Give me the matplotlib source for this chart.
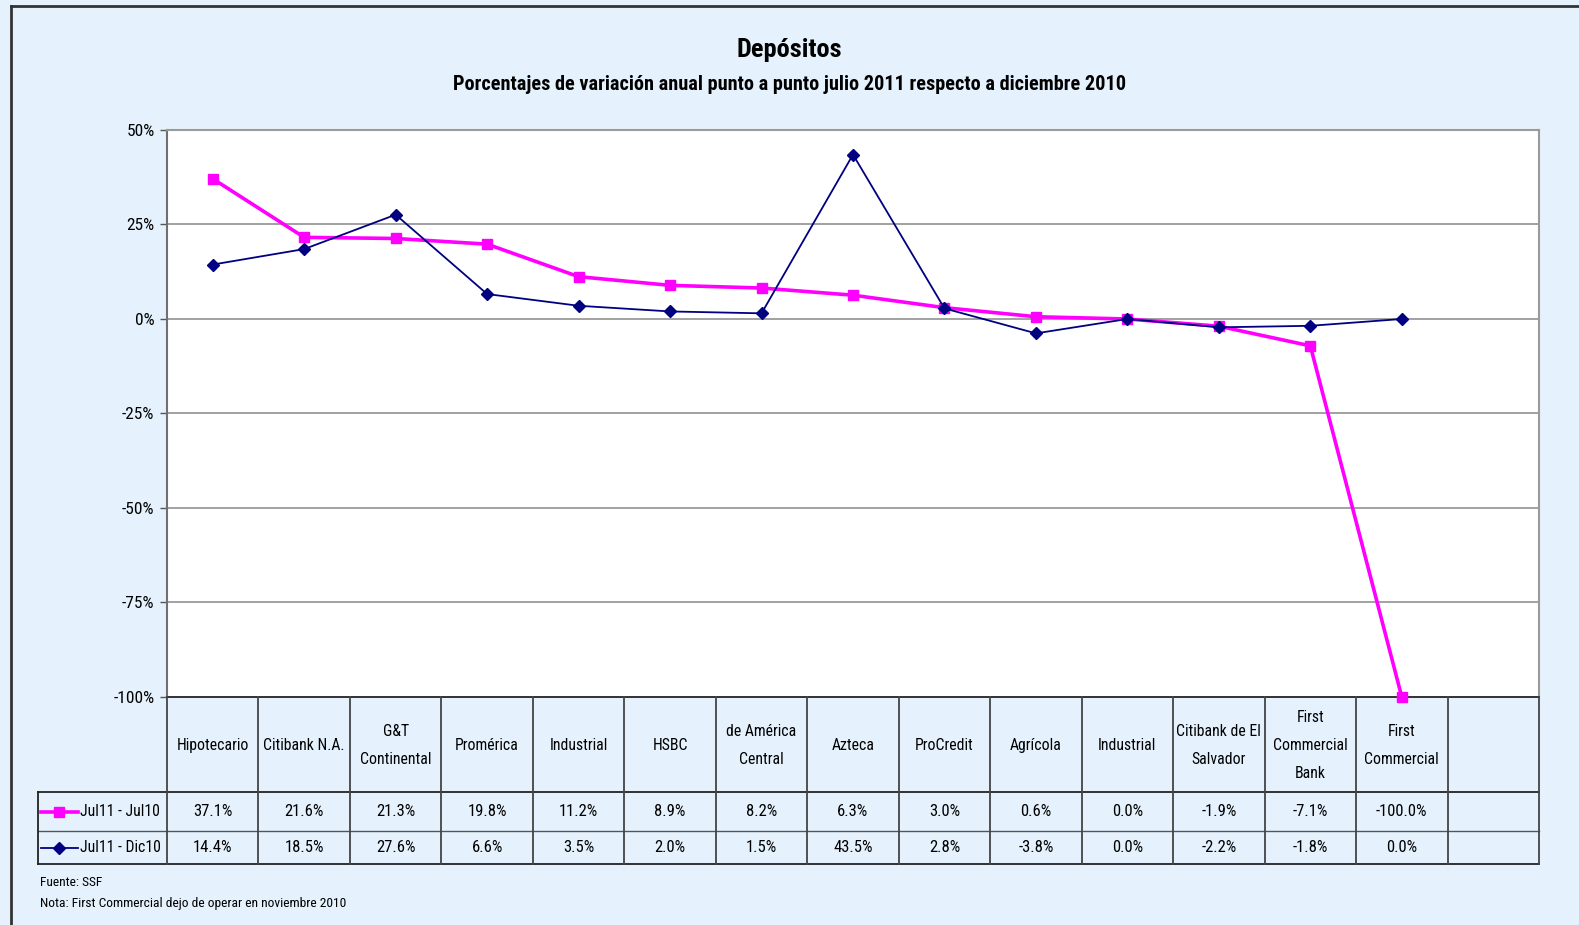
import matplotlib
matplotlib.use("Agg")
import matplotlib.pyplot as plt
from matplotlib.lines import Line2D
from matplotlib.transforms import blended_transform_factory
from matplotlib import font_manager

# ---------------- data ----------------
categories = ["Hipotecario", "Citibank N.A.", "G&T\nContinental", "Promérica",
              "Industrial", "HSBC", "de América\nCentral", "Azteca", "ProCredit",
              "Agrícola", "Industrial", "Citibank de El\nSalvador",
              "First\nCommercial\nBank", "First\nCommercial", ""]
jul11_jul10 = [37.1, 21.6, 21.3, 19.8, 11.2, 8.9, 8.2, 6.3, 3.0, 0.6, 0.0, -1.9, -7.1, -100.0]
jul11_dic10 = [14.4, 18.5, 27.6, 6.6, 3.5, 2.0, 1.5, 43.5, 2.8, -3.8, 0.0, -2.2, -1.8, 0.0]
series_names = ["Jul11 - Jul10", "Jul11 - Dic10"]
yticks = [50, 25, 0, -25, -50, -75, -100]
title = "Depósitos"
subtitle = "Porcentajes de variación anual punto a punto julio 2011 respecto a diciembre 2010"
notes = ["Fuente: SSF", "Nota: First Commercial dejo de operar en noviembre 2010"]

# ---------------- fonts ----------------
entries = font_manager.fontManager.ttflist
names = {f.name for f in entries}
condensed = None
for cand in ["Liberation Sans Narrow", "Arial Narrow", "Roboto Condensed",
             "Open Sans Condensed", "Noto Sans Condensed"]:
    if cand in names:
        condensed = (cand, "normal")
        break
if condensed is None:
    for f in entries:
        if ("Condensed" in f.name or "Narrow" in f.name) and "Mono" not in f.name:
            condensed = (f.name, "normal")
            break
if condensed is None:
    for f in entries:
        st = str(f.stretch)
        if st in ("condensed", "semi-condensed", "extra-condensed") and "Sans" in f.name \
                and "Mono" not in f.name:
            condensed = (f.name, st)
            break

if condensed is not None:
    plt.rcParams["font.family"] = [condensed[0], "DejaVu Sans"]
    plt.rcParams["font.stretch"] = condensed[1]
    K = 1.0
else:
    plt.rcParams["font.family"] = ["Liberation Sans", "DejaVu Sans"]
    K = 0.86

W, H = 1579, 925
BG = "#e5f2fd"
fig = plt.figure(figsize=(W / 100, H / 100), dpi=100, facecolor=BG)

def fy(py):  # pixel from top -> figure fraction
    return 1 - py / H

def fx(px):
    return px / W

left_px, right_px, top_px, bot_px = 167, 1539, 130, 697
ax = fig.add_axes([fx(left_px), fy(bot_px), fx(right_px - left_px), (bot_px - top_px) / H])
ax.set_facecolor("white")

n = len(categories)
x1 = list(range(len(jul11_jul10)))
ax.plot(x1, jul11_jul10, color="#ff00ff", lw=2.6, marker="s", ms=7.5,
        clip_on=False, zorder=4)
ax.plot(x1, jul11_dic10, color="#000080", lw=1.3, marker="D", ms=6.5,
        clip_on=False, zorder=5)

ax.set_xlim(-0.5, n - 0.5)
ax.set_ylim(-100, 50)
ax.set_yticks(yticks)
ax.set_yticklabels([f"{t}%" for t in yticks], fontsize=12.5 * K)
ax.set_xticks([])
for t in yticks[1:-1]:
    ax.axhline(t, color="#9a9a9a", lw=1.3, zorder=1)
ax.tick_params(axis="y", length=5, width=1, color="#555555", pad=4)
ax.spines["left"].set_color("#707070")
ax.spines["left"].set_linewidth(1.5)
ax.spines["top"].set_color("#9a9a9a")
ax.spines["top"].set_linewidth(1.5)
ax.spines["right"].set_color("#9a9a9a")
ax.spines["right"].set_linewidth(1.5)
ax.spines["bottom"].set_color("#222222")
ax.spines["bottom"].set_linewidth(1.3)

# ---------------- data table ----------------
tr = blended_transform_factory(ax.transData, fig.transFigure)
legend_left = 38
xb = [i - 0.5 for i in range(n + 1)]

def hline(py, color, lw):
    fig.add_artist(Line2D([fx(legend_left), fx(right_px)], [fy(py), fy(py)],
                          color=color, lw=lw, transform=fig.transFigure))

hline(792, "#222222", 1.3)
hline(831, "#555555", 1.0)
hline(864, "#222222", 1.3)
for xv in xb:
    fig.add_artist(Line2D([xv, xv], [fy(697), fy(864)], color="#444444", lw=1.3,
                          transform=tr))
fig.add_artist(Line2D([fx(legend_left)] * 2, [fy(792), fy(864)], color="#222222",
                      lw=1.3, transform=fig.transFigure))

fs_cat = 11.3 * K
fs_val = 12.0 * K
for i, c in enumerate(categories):
    fig.text(i, fy((697 + 792) / 2 + 1), c, transform=tr, ha="center", va="center",
             fontsize=fs_cat, linespacing=2.05)
    if i < len(jul11_jul10):
        fig.text(i, fy((792 + 831) / 2), f"{jul11_jul10[i]:.1f}%", transform=tr,
                 ha="center", va="center", fontsize=fs_val)
        fig.text(i, fy((831 + 864) / 2), f"{jul11_dic10[i]:.1f}%", transform=tr,
                 ha="center", va="center", fontsize=fs_val)

# legend keys in table
for (ypx0, ypx1), name, col, lw, mk, ms in [((792, 831), series_names[0], "#ff00ff", 2.6, "s", 7),
                                            ((831, 864), series_names[1], "#000080", 1.3, "D", 6)]:
    yc = fy((ypx0 + ypx1) / 2)
    fig.add_artist(Line2D([fx(41), fx(78)], [yc, yc], color=col, lw=lw,
                          transform=fig.transFigure))
    fig.add_artist(Line2D([fx(59.5)], [yc], color=col, marker=mk, ms=ms, lw=0,
                          transform=fig.transFigure))
    fig.text(fx(80), yc, name, ha="left", va="center", fontsize=11.3 * K)

# ---------------- titles & notes ----------------
fig.text(0.5, fy(50), title, ha="center", va="center", fontsize=19 * K, fontweight="bold")
fig.text(0.5, fy(84), subtitle, ha="center", va="center", fontsize=14.6 * K,
         fontweight="bold")
fig.text(fx(40), fy(882), notes[0], ha="left", va="center", fontsize=9.7 * K)
fig.text(fx(40), fy(903), notes[1], ha="left", va="center", fontsize=9.7 * K)

# outer frame (left and top edges visible)
fig.add_artist(Line2D([fx(11), fx(11)], [0, fy(6)], color="#333333", lw=2,
                      transform=fig.transFigure))
fig.add_artist(Line2D([fx(11), 1], [fy(6), fy(6)], color="#333333", lw=2,
                      transform=fig.transFigure))

fig.savefig("out.png", dpi=100, facecolor=BG)
